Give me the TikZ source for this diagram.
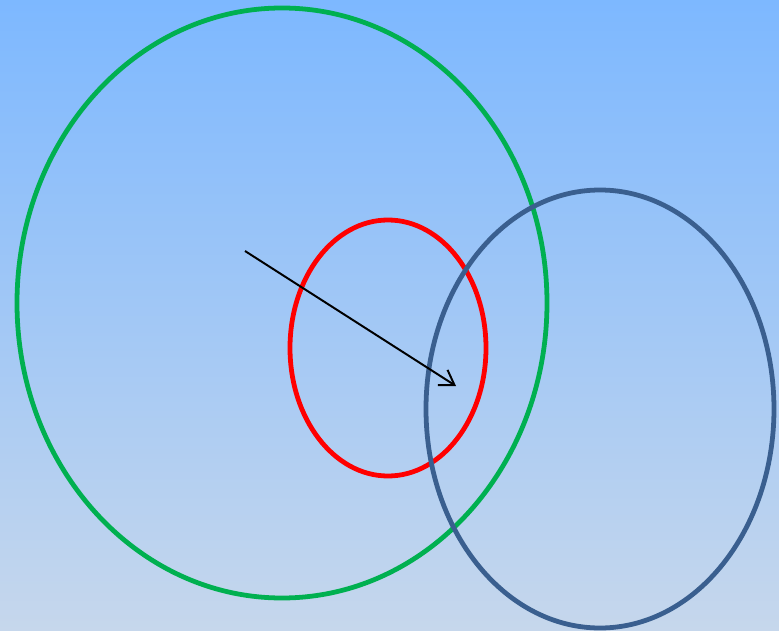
\documentclass[tikz,border=0pt]{standalone}
\usepackage{xcolor}
\usepackage{tikz}
\usetikzlibrary{arrows.meta}
\definecolor{skytop}{HTML}{7DB8FF}
\definecolor{skybottom}{HTML}{C6D7EC}
\definecolor{ringgreen}{HTML}{00B050}
\definecolor{ringred}{HTML}{FF0000}
\definecolor{ringblue}{HTML}{3A5F8F}

\begin{document}
\begin{tikzpicture}[
    x=0.025cm, y=-0.025cm,
    ring/.style={line width=3.4pt},
    arr/.style={-{Straight Barb[length=3.5mm, width=4.5mm]}, line width=1.4pt},
]
% background
\shade[top color=skytop, bottom color=skybottom] (0,0) rectangle (779,631);
\useasboundingbox (0,0) rectangle (779,631);
% rings
\draw[ring, ringgreen] (282,303) ellipse [x radius=265, y radius=295];
\draw[ring, ringred] (388,348) ellipse [x radius=98, y radius=128];
\draw[ring, ringblue] (600,409) ellipse [x radius=174, y radius=219];
% arrow
\coordinate (tail) at (245,251);
\coordinate (head) at (456,386);
\draw[arr] (tail) -- (head);
\end{tikzpicture}
\end{document}
